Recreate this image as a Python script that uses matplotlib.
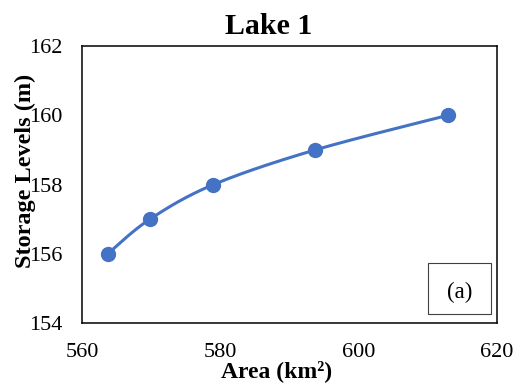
import numpy as np
import matplotlib
matplotlib.use("Agg")
import matplotlib.pyplot as plt
from matplotlib.patches import Rectangle

# data
area = [563.7, 569.8, 579.0, 593.7, 612.9]
level = [156, 157, 158, 159, 160]
xlim = (560, 620)
ylim = (154, 162)

plt.rcParams['font.family'] = ['Liberation Serif', 'DejaVu Serif']


def smooth(xs, ys, n=40):
    # excel style smoothing: bezier with catmull-rom control points,
    # done in normalised coords so the axis scales do not bend it
    sx = xlim[1] - xlim[0]
    sy = ylim[1] - ylim[0]
    p = np.column_stack([(np.array(xs) - xlim[0]) / sx, (np.array(ys) - ylim[0]) / sy])
    out = []
    for i in range(len(p) - 1):
        p0 = p[max(i - 1, 0)]
        p1 = p[i]
        p2 = p[i + 1]
        p3 = p[min(i + 2, len(p) - 1)]
        c1 = p1 + (p2 - p0) / 6
        c2 = p2 - (p3 - p1) / 6
        t = np.linspace(0, 1, n)[:, None]
        seg = (1 - t)**3 * p1 + 3 * (1 - t)**2 * t * c1 + 3 * (1 - t) * t**2 * c2 + t**3 * p2
        out.append(seg)
    out = np.vstack(out)
    return out[:, 0] * sx + xlim[0], out[:, 1] * sy + ylim[0]


fig = plt.figure(figsize=(5.16, 3.87), dpi=100)
ax = fig.add_axes([0.159, 0.165, 0.804, 0.716])

cx, cy = smooth(area, level)
ax.plot(cx, cy, color='#4472C4', lw=2.2, zorder=2)
ax.plot(area, level, 'o', color='#4472C4', ms=10, zorder=3)

ax.set_xlim(*xlim)
ax.set_ylim(*ylim)
ax.set_xticks([560, 580, 600, 620])
ax.set_yticks([154, 156, 158, 160, 162])
ax.tick_params(length=0, labelsize=16, pad=14)
for s in ax.spines.values():
    s.set_linewidth(1.1)

# title sits a bit left of the plot centre, like the original
fig.text(269 / 516, 1 - 34 / 387, 'Lake 1', fontsize=21.5, fontweight='bold',
         ha='center', va='baseline')
ax.set_xlabel('Area (km²)', fontsize=17, fontweight='bold')
ax.xaxis.set_label_coords(0.47, -0.135)
ax.set_ylabel('Storage Levels (m)', fontsize=17.5, fontweight='bold')
ax.yaxis.set_label_coords(-0.11, 0.55)

ax.add_patch(Rectangle((0.834, 0.032), 0.152, 0.185, transform=ax.transAxes,
                       fill=False, ec='#404040', lw=0.8))
ax.text(0.910, 0.112, '(a)', transform=ax.transAxes, fontsize=16.5,
        ha='center', va='center')

fig.savefig('out.png', dpi=100)
